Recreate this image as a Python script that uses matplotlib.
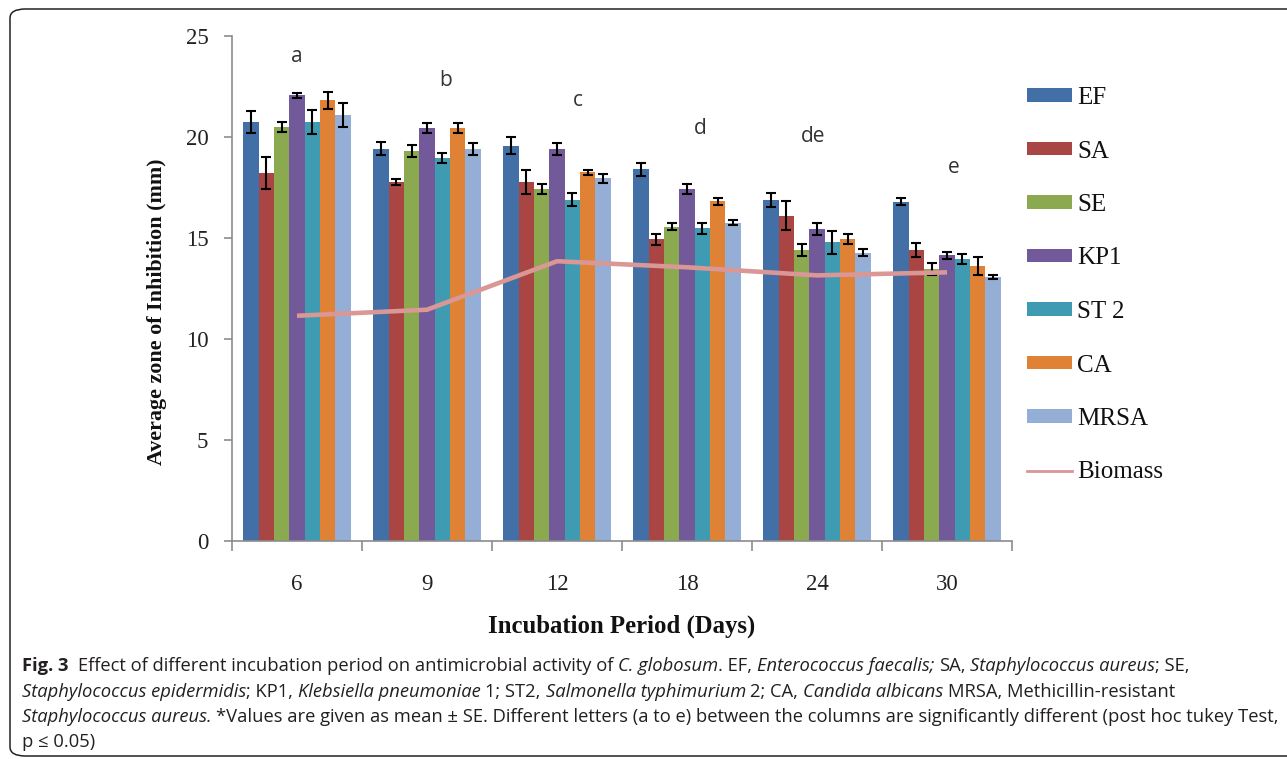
import matplotlib
matplotlib.use('Agg')
import matplotlib.pyplot as plt
import numpy as np
from matplotlib import font_manager
from matplotlib.patches import Patch, FancyBboxPatch
from matplotlib.lines import Line2D

# ---------------- data ----------------
days = ['6', '9', '12', '18', '24', '30']
series_names = ['EF', 'SA', 'SE', 'KP1', 'ST 2', 'CA', 'MRSA']

EF = [20.75, 19.42, 19.57, 18.40, 16.88, 16.80]
SA = [18.23, 17.76, 17.79, 14.93, 16.10, 14.41]
SE = [20.48, 19.31, 17.43, 15.56, 14.41, 13.45]
KP1 = [22.06, 20.46, 19.42, 17.43, 15.45, 14.14]
ST2 = [20.73, 18.95, 16.90, 15.48, 14.79, 13.96]
CA = [21.82, 20.46, 18.25, 16.81, 14.95, 13.61]
MRSA = [21.09, 19.40, 17.95, 15.76, 14.27, 13.05]

EF_err = [0.55, 0.33, 0.41, 0.33, 0.33, 0.17]
SA_err = [0.78, 0.15, 0.60, 0.26, 0.71, 0.33]
SE_err = [0.25, 0.30, 0.25, 0.17, 0.31, 0.30]
KP1_err = [0.12, 0.25, 0.30, 0.26, 0.28, 0.17]
ST2_err = [0.60, 0.26, 0.33, 0.26, 0.58, 0.25]
CA_err = [0.43, 0.25, 0.12, 0.17, 0.26, 0.45]
MRSA_err = [0.61, 0.30, 0.23, 0.14, 0.18, 0.10]

biomass = [11.15, 11.45, 13.85, 13.55, 13.15, 13.30]

letters = ['a', 'b', 'c', 'd', 'de', 'e']

values = [EF, SA, SE, KP1, ST2, CA, MRSA]
errors = [EF_err, SA_err, SE_err, KP1_err, ST2_err, CA_err, MRSA_err]
colors = ['#426FA6', '#A94543', '#8BAA4F', '#72599A', '#3F9BB2', '#E08236', '#94AED6']
biomass_color = '#D99795'

# ---------------- figure ----------------
W, H = 1287, 759
fig = plt.figure(figsize=(W / 100, H / 100), dpi=100)
fig.patch.set_facecolor('white')

def fx(px):
    return px / W

def fy(py):
    return 1 - py / H

# outer rounded frame
frame = FancyBboxPatch((fx(10), fy(756)), fx(1320) - fx(10), fy(9) - fy(756),
                       boxstyle='round,pad=0,rounding_size=0.012',
                       transform=fig.transFigure, fill=False,
                       edgecolor='#222222', linewidth=1.1, zorder=0)
fig.patches.append(frame)

ax = fig.add_axes([fx(232), fy(541), fx(1012) - fx(232), fy(36) - fy(541)])

serif = 'Liberation Serif'
x = np.arange(len(days))
width = 0.118
n = len(values)
for i, (vals, errs, c) in enumerate(zip(values, errors, colors)):
    off = (i - (n - 1) / 2) * width
    ax.bar(x + off, vals, width=width, color=c, edgecolor='none', zorder=2)
    ax.errorbar(x + off, vals, yerr=errs, fmt='none', ecolor='black',
                elinewidth=1.5, capsize=3.5, capthick=1.5, zorder=3)

ax.plot(x, biomass, color=biomass_color, linewidth=3.3, zorder=4,
        solid_capstyle='butt')

# group letters
letter_pos = [(0.0, 24.0), (1.14, 22.8), (2.16, 21.8), (3.1, 20.4), (3.97, 20.0), (5.05, 18.5)]
for lab, (lx, ly) in zip(letters, letter_pos):
    ax.text(lx, ly, lab, ha='center', va='center', fontsize=15,
            family='Open Sans', color='#333333')

ax.set_xlim(-0.5, len(days) - 0.5)
ax.set_ylim(0, 25)
ax.set_yticks([0, 5, 10, 15, 20, 25])
ax.set_xticks(np.arange(len(days) + 1) - 0.5)
ax.set_xticklabels([])
ax.set_xticks(x, minor=True)
ax.set_xticklabels(days, minor=True)
for s in ['top', 'right']:
    ax.spines[s].set_visible(False)
for s in ['left', 'bottom']:
    ax.spines[s].set_color('#8c8c8c')
    ax.spines[s].set_linewidth(1.2)
ax.tick_params(axis='y', direction='out', length=6, width=1.2, color='#8c8c8c',
               pad=11, labelsize=16.5, labelcolor='#222222')
ax.tick_params(axis='x', which='major', direction='out', length=7, width=1.2,
               color='#8c8c8c')
ax.tick_params(axis='x', which='minor', length=0, pad=24, labelsize=16.5,
               labelcolor='#222222')
for lab in ax.get_yticklabels() + ax.get_xticklabels(minor=True):
    lab.set_family(serif)

fig.text(fx(157), fy(312), 'Average zone of Inhibition (mm)', rotation=90,
         ha='center', va='center', family=serif, weight='bold', fontsize=15.8,
         color='#111111')
fig.text(fx(622), fy(626), 'Incubation Period (Days)', ha='center', va='center',
         family=serif, weight='bold', fontsize=17.8, color='#111111')

# legend
handles = [Patch(facecolor=c, edgecolor='none') for c in colors]
handles.append(Line2D([0], [0], color=biomass_color, linewidth=2))
leg = ax.legend(handles, series_names + ['Biomass'], loc='upper left',
                bbox_to_anchor=(fx(1027), fy(87)), bbox_transform=fig.transFigure,
                frameon=False, borderaxespad=0, borderpad=0,
                handlelength=1.8, handleheight=0.44, handletextpad=0.2,
                labelspacing=1.26, prop={'family': serif, 'size': 18})
for t in leg.get_texts():
    t.set_color('#111111')

# ---------------- caption ----------------
def pick_font(cands):
    for c in cands:
        try:
            font_manager.findfont(c, fallback_to_default=False)
            return c
        except Exception:
            continue
    return 'DejaVu Sans'

cap_font = pick_font(['Liberation Sans Narrow', 'Open Sans', 'Lato', 'DejaVu Sans'])

caption = [
    [("Fig. 3", 'b'), ("  Effect of different incubation period on antimicrobial activity of ", 'r'),
     ("C. globosum", 'i'), (". EF, ", 'r'), ("Enterococcus faecalis;", 'i'), (" SA, ", 'r'),
     ("Staphylococcus aureus", 'i'), ("; SE,", 'r')],
    [("Staphylococcus epidermidis", 'i'), ("; KP1, ", 'r'), ("Klebsiella pneumoniae", 'i'),
     (" 1; ST2, ", 'r'), ("Salmonella typhimurium", 'i'), (" 2; CA, ", 'r'),
     ("Candida albicans", 'i'), (" MRSA, Methicillin-resistant", 'r')],
    [("Staphylococcus aureus.", 'i'),
     (" *Values are given as mean \u00b1 SE. Different letters (a to e) between the columns are significantly different (post hoc tukey Test,", 'r')],
    [("p \u2264 0.05)", 'r')],
]

renderer = fig.canvas.get_renderer()

def props(st, size):
    return dict(family=cap_font, fontsize=size,
                weight='bold' if st == 'b' else 'normal',
                style='italic' if st == 'i' else 'normal')

def measure(s, st, size):
    t1 = fig.text(0, 0, '|' + s + '|', **props(st, size))
    t2 = fig.text(0, 0, '||', **props(st, size))
    w = t1.get_window_extent(renderer).width - t2.get_window_extent(renderer).width
    t1.remove(); t2.remove()
    return w

def line_width(pieces, size):
    return sum(measure(s, st, size) for s, st in pieces)

base = 12.0
target = 1271 - 22
size = base * target / line_width(caption[2], base)

baselines = [671, 697, 722, 747]
for pieces, yb in zip(caption, baselines):
    xp = 22.0
    for s, st in pieces:
        core = s.strip()
        lead = len(s) - len(s.lstrip())
        lead_w = measure(' ' * lead, st, size) if lead else 0
        fig.text(fx(xp + lead_w), fy(yb), core, va='baseline', ha='left',
                 color='#231F20', **props(st, size))
        xp += measure(s, st, size)

fig.savefig('out.png', dpi=100, facecolor='white')
